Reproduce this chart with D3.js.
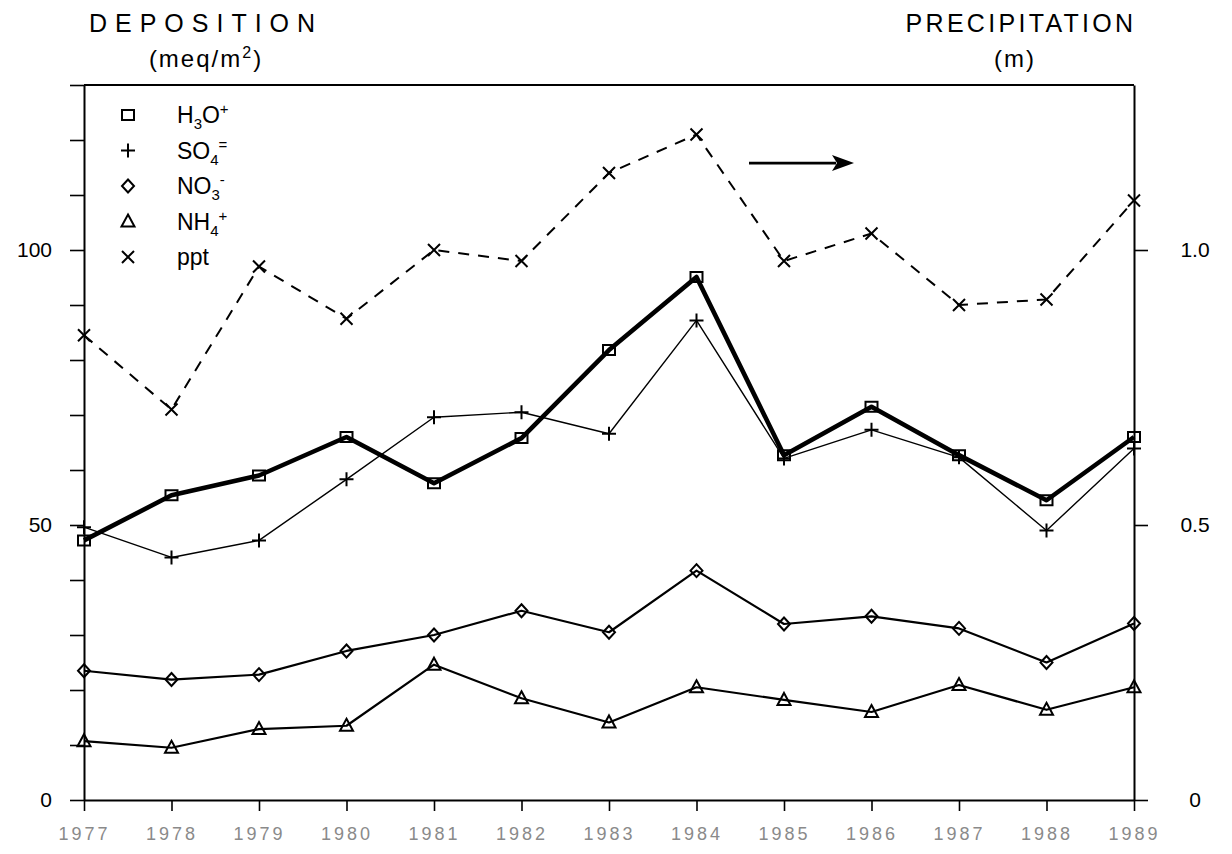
<!DOCTYPE html>
<html>
<head>
<meta charset="utf-8">
<script src="https://cdn.jsdelivr.net/npm/d3@7"></script>
<style>
  body { margin: 0; background: #fff; }
  svg { display: block; font-family: "Liberation Sans", Arial, Helvetica, sans-serif; }
</style>
</head>
<body>
<svg id="chart" width="1232" height="854"></svg>
<script>
// Annual deposition of major ions (meq/m2) and precipitation (m)
const years = [1977, 1978, 1979, 1980, 1981, 1982, 1983, 1984, 1985, 1986, 1987, 1988, 1989];
const h3o = [47.2, 55.4, 59.0, 66.0, 57.6, 65.8, 81.8, 95.1, 62.7, 71.5, 62.7, 54.5, 66.0];
const so4 = [49.6, 44.1, 47.2, 58.3, 69.6, 70.5, 66.6, 87.2, 62.1, 67.3, 62.3, 49.0, 63.9];
const no3 = [23.5, 21.9, 22.8, 27.1, 30.0, 34.4, 30.5, 41.7, 32.0, 33.4, 31.2, 25.0, 32.1];
const nh4 = [10.7, 9.5, 12.9, 13.5, 24.6, 18.5, 14.1, 20.5, 18.2, 16.0, 20.9, 16.4, 20.5];
const ppt = [0.845, 0.71, 0.97, 0.875, 1.00, 0.98, 1.14, 1.21, 0.98, 1.03, 0.90, 0.91, 1.09];

const leftTicks = d3.range(0, 131, 10);
const leftLabelled = [0, 50, 100];
const rightTicks = [0, 0.5, 1.0];

// arrow pointing to the precipitation axis, in data units
const arrowFrom = [1984.6, 115.8];
const arrowTo = [1985.8, 115.8];

const W = 1232, H = 854;
const margin = { top: 85, right: 98, bottom: 54, left: 84 };

const svg = d3.select("#chart");

const x = d3.scaleLinear().domain([1977, 1989]).range([margin.left, W - margin.right]);
const y = d3.scaleLinear().domain([0, 130]).range([H - margin.bottom, margin.top]);
const y2 = d3.scaleLinear().domain([0, 1.3]).range([H - margin.bottom, margin.top]);

// ---- axes ----
const gLeft = svg.append("g")
  .attr("transform", `translate(${margin.left},0)`)
  .call(d3.axisLeft(y).tickValues(leftTicks).tickSize(14).tickSizeOuter(0).tickPadding(18)
    .tickFormat(d => leftLabelled.includes(d) ? String(d) : ""));

const gRight = svg.append("g")
  .attr("transform", `translate(${W - margin.right},0)`)
  .call(d3.axisRight(y2).tickValues(rightTicks).tickSize(14).tickSizeOuter(0).tickPadding(47)
    .tickFormat(d => d === 0 ? "0" : d3.format(".1f")(d)));

const gBottom = svg.append("g")
  .attr("transform", `translate(0,${H - margin.bottom})`)
  .call(d3.axisBottom(x).tickValues(years).tickSize(11).tickSizeOuter(0).tickPadding(16)
    .tickFormat(d3.format("d")));

[gLeft, gRight, gBottom].forEach(g => {
  g.select(".domain").attr("stroke", "#000").attr("stroke-width", 2);
  g.selectAll(".tick line").attr("stroke", "#000").attr("stroke-width", 1.6);
  g.selectAll(".tick text").attr("fill", "#000").attr("font-size", 21)
    .attr("font-family", "\"Liberation Sans\", Arial, sans-serif");
});
gRight.selectAll(".tick text").attr("text-anchor", "middle");
gBottom.selectAll(".tick text")
  .attr("font-size", 18).attr("fill", "#8a8a8a").attr("letter-spacing", 3);

// top border of the frame
svg.append("line")
  .attr("x1", x(1977)).attr("x2", x(1989))
  .attr("y1", y(130)).attr("y2", y(130))
  .attr("stroke", "#000").attr("stroke-width", 2);

// ---- axis titles ----
const titleL = (x(1977) + 122);
svg.append("text").attr("x", titleL).attr("y", 32).attr("text-anchor", "middle")
  .attr("font-size", 25).attr("letter-spacing", 8).text("DEPOSITION");
const unitL = svg.append("text").attr("x", titleL).attr("y", 67).attr("text-anchor", "middle")
  .attr("font-size", 24).attr("letter-spacing", 2);
unitL.append("tspan").text("(meq/m");
unitL.append("tspan").attr("dy", -9).attr("font-size", 16).text("2");
unitL.append("tspan").attr("dy", 9).text(")");

const titleR = x(1989) - 113;
svg.append("text").attr("x", titleR).attr("y", 32).attr("text-anchor", "middle")
  .attr("font-size", 25).attr("letter-spacing", 3.3).text("PRECIPITATION");
svg.append("text").attr("x", titleR - 6).attr("y", 67).attr("text-anchor", "middle")
  .attr("font-size", 24).attr("letter-spacing", 2).text("(m)");

// ---- marker shapes ----
const markerPath = {
  square:   (cx, cy) => `M${cx - 6},${cy - 5}h12v10h-12Z`,
  plus:     (cx, cy) => `M${cx - 7},${cy}H${cx + 7}M${cx},${cy - 7}V${cy + 7}`,
  diamond:  (cx, cy) => `M${cx},${cy - 6.5}L${cx + 6},${cy}L${cx},${cy + 6.5}L${cx - 6},${cy}Z`,
  triangle: (cx, cy) => `M${cx},${cy - 7}L${cx + 6.5},${cy + 5}L${cx - 6.5},${cy + 5}Z`,
  cross:    (cx, cy) => `M${cx - 6},${cy - 6}L${cx + 6},${cy + 6}M${cx + 6},${cy - 6}L${cx - 6},${cy + 6}`
};

const series = [
  { name: "nh4", values: nh4, scale: y, marker: "triangle", width: 2.2, dash: null },
  { name: "no3", values: no3, scale: y, marker: "diamond", width: 2.2, dash: null },
  { name: "so4", values: so4, scale: y, marker: "plus", width: 1.4, dash: null },
  { name: "h3o", values: h3o, scale: y, marker: "square", width: 4.6, dash: null },
  { name: "ppt", values: ppt, scale: y2, marker: "cross", width: 2, dash: "11,9" }
];

series.forEach(s => {
  const pts = years.map((yr, i) => [x(yr), s.scale(s.values[i])]);
  svg.append("path")
    .attr("d", d3.line()(pts))
    .attr("fill", "none").attr("stroke", "#000")
    .attr("stroke-width", s.width)
    .attr("stroke-linejoin", "round")
    .attr("stroke-dasharray", s.dash);
  svg.append("g").selectAll("path").data(pts).join("path")
    .attr("d", p => markerPath[s.marker](p[0], p[1]))
    .attr("fill", "none").attr("stroke", "#000").attr("stroke-width", 2);
});

// ---- arrow towards the right-hand axis ----
const ax0 = x(arrowFrom[0]), ay = y(arrowFrom[1]), ax1 = x(arrowTo[0]);
svg.append("line").attr("x1", ax0).attr("x2", ax1 - 18).attr("y1", ay).attr("y2", ay)
  .attr("stroke", "#000").attr("stroke-width", 2.6);
svg.append("path")
  .attr("d", `M${ax1},${ay}L${ax1 - 22},${ay - 8}L${ax1 - 17},${ay}L${ax1 - 22},${ay + 8}Z`)
  .attr("fill", "#000");

// ---- legend ----
const legendItems = [
  { marker: "square",   parts: [["H"], ["3", "sub"], ["O"], ["+", "sup"]] },
  { marker: "plus",     parts: [["SO"], ["4", "sub"], ["=", "sup"]] },
  { marker: "diamond",  parts: [["NO"], ["3", "sub"], ["-", "sup"]] },
  { marker: "triangle", parts: [["NH"], ["4", "sub"], ["+", "sup"]] },
  { marker: "cross",    parts: [["ppt"]] }
];
const legX = x(1977) + 44, legTextX = x(1977) + 93, legY0 = 115, legStep = 35.5;

legendItems.forEach((it, i) => {
  const cy = legY0 + i * legStep;
  svg.append("path").attr("d", markerPath[it.marker](legX, cy))
    .attr("fill", "none").attr("stroke", "#000").attr("stroke-width", 2);
  const t = svg.append("text").attr("x", legTextX).attr("y", cy + 8).attr("font-size", 23);
  let shift = 0;
  it.parts.forEach(([txt, kind]) => {
    let target = kind === "sub" ? 6 : kind === "sup" ? -9 : 0;
    const ts = t.append("tspan").attr("dy", target - shift).text(txt);
    if (kind) ts.attr("font-size", 15);
    shift = target;
  });
});
</script>
</body>
</html>
